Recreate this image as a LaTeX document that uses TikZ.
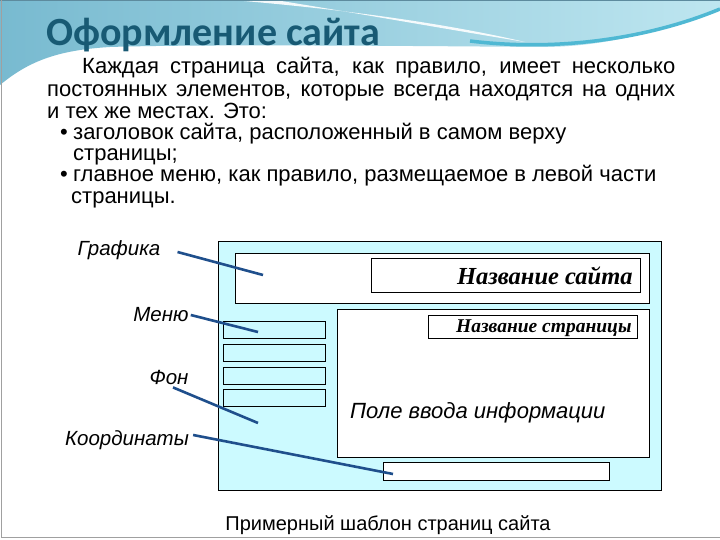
\documentclass[tikz,border=0pt]{standalone}
\usepackage{fontspec}
\setmainfont{Liberation Sans}
\newfontfamily\headfont{Carlito}
\newfontfamily\tmsfont{Liberation Serif}
\usepackage{tikz}
\usetikzlibrary{positioning}
\definecolor{headdark}{HTML}{185A74}
\definecolor{wavel}{HTML}{78BAD0}
\definecolor{waver}{HTML}{BEE6F0}
\definecolor{waveline}{HTML}{4FB8D3}
\definecolor{pagefill}{HTML}{CCFAFF}
\definecolor{leaddraw}{HTML}{1F4F8C}
\definecolor{framedraw}{HTML}{A0A0A0}
\tikzset{
  txt/.style={anchor=base west, inner sep=0pt, font=\fontsize{22}{26}\selectfont},
  lbl/.style={inner sep=1pt, font=\fontsize{20.5}{24}\selectfont\itshape},
  box/.style={rectangle, draw=black, line width=0.8pt, fill=white, inner sep=0pt},
  menubox/.style={box, fill=pagefill, minimum width=102pt, minimum height=17pt},
  ttl/.style={inner sep=0pt, anchor=east},
  lead/.style={draw=leaddraw, line width=2.6pt},
}

\begin{document}
\begin{tikzpicture}[x=1pt, y=-1pt]
  \useasboundingbox (0,0) rectangle (720,540);
  % slide background and header wave
  \fill[white] (0,0) rectangle (720,540);
  \shade[left color=wavel, right color=waver]
    (0,0) -- (720,0) -- (720,8) .. controls (650,35) and (600,47) .. (540,47)
    .. controls (420,46) and (200,44) .. (110,47) .. controls (60,50) and (30,60) .. (0,85) -- cycle;
  \fill[white, opacity=0.9] (232,0) .. controls (330,8) and (440,22) .. (525,42)
    .. controls (440,28) and (350,12) .. (275,0) -- cycle;
  \draw[waveline, line width=3.5pt] (470,41) .. controls (560,52) and (650,38) .. (720,9);
  \draw[headdark!70, line width=1pt] (0,0.5) -- (720,0.5);
  \draw[framedraw, line width=0.8pt] (1,0) -- (1,537) -- (720,537);

  \node[anchor=base west, inner sep=0pt, text=headdark, font=\headfont\fontsize{40}{46}\selectfont\bfseries]
    (title) at (46,46) {Оформление сайта};

  % body text
  \node[txt] (p1) at (82,74) {\makebox[593pt][s]{Каждая страница сайта, как правило, имеет несколько}};
  \node[txt] (p2) at (47,97) {\makebox[628pt][s]{постоянных элементов, которые всегда находятся на одних}};
  \node[txt] (p3) at (47,119) {и тех же местах. Это:};
  \node[txt] (b1) at (60,140) {\makebox[13pt][l]{•}заголовок сайта, расположенный в самом верху};
  \node[txt] (b1a) at (73,161) {страницы;};
  \node[txt] (b2) at (60,182) {\makebox[13pt][l]{•}главное меню, как правило, размещаемое в левой части};
  \node[txt] (b2a) at (71,204) {страницы.};

  % page template
  \node[box, fill=pagefill, minimum width=443pt, minimum height=249pt, anchor=north west] (page) at (218,241) {};
  \node[box, minimum width=414pt, minimum height=50pt, anchor=north west] (head) at (235,253) {};
  \node[box, minimum width=269pt, minimum height=34pt, anchor=north west] (sitebox) at (371,258) {};
  \node[ttl, font=\tmsfont\fontsize{24.5}{28}\selectfont\bfseries\itshape] (site) at ([xshift=-8pt]sitebox.east) {Название сайта};
  \node[box, minimum width=312pt, minimum height=148pt, anchor=north west] (body) at (337,309) {};
  \node[box, minimum width=209pt, minimum height=23pt, anchor=north west] (pgbox) at (428,315) {};
  \node[ttl, font=\tmsfont\fontsize{19.5}{22}\selectfont\bfseries\itshape] (pgname) at ([xshift=-6pt, yshift=-1pt]pgbox.east) {Название страницы};
  \node[anchor=west, inner sep=0pt, font=\fontsize{22}{26}\selectfont\itshape] (input) at (350,413) {Поле ввода информации};
  \node[menubox, anchor=north west] (m1) at (223,321) {};
  \node[menubox, below=5pt of m1] (m2) {};
  \node[menubox, below=5pt of m2] (m3) {};
  \node[menubox, below=5pt of m3] (m4) {};
  \node[box, minimum width=226pt, minimum height=18pt, anchor=north west] (coords) at (383,462) {};

  % labels and leaders
  \node[lbl] (graph) at (119,250) {Графика};
  \node[lbl] (menu) at (161,315) {Меню};
  \node[lbl] (fon) at (169,377) {Фон};
  \node[lbl] (koord) at (127,440) {Координаты};
  \coordinate (graphend) at (263,275);
  \coordinate (menuend) at (258,332);
  \coordinate (fonend) at (258,423);
  \coordinate (koordend) at (393,474);
  \draw[lead] ([xshift=16pt, yshift=-2pt]graph.east) -- (graphend);
  \draw[lead] ([xshift=1pt]menu.east) -- (menuend);
  \draw[lead] ([xshift=4pt, yshift=-2pt]fon.south) -- (fonend);
  \draw[lead] ([xshift=3pt, yshift=5pt]koord.east) -- (koordend);

  \node[anchor=center, inner sep=0pt, font=\fontsize{20}{24}\selectfont] (caption) at (388,525) {Примерный шаблон страниц сайта};
\end{tikzpicture}
\end{document}
